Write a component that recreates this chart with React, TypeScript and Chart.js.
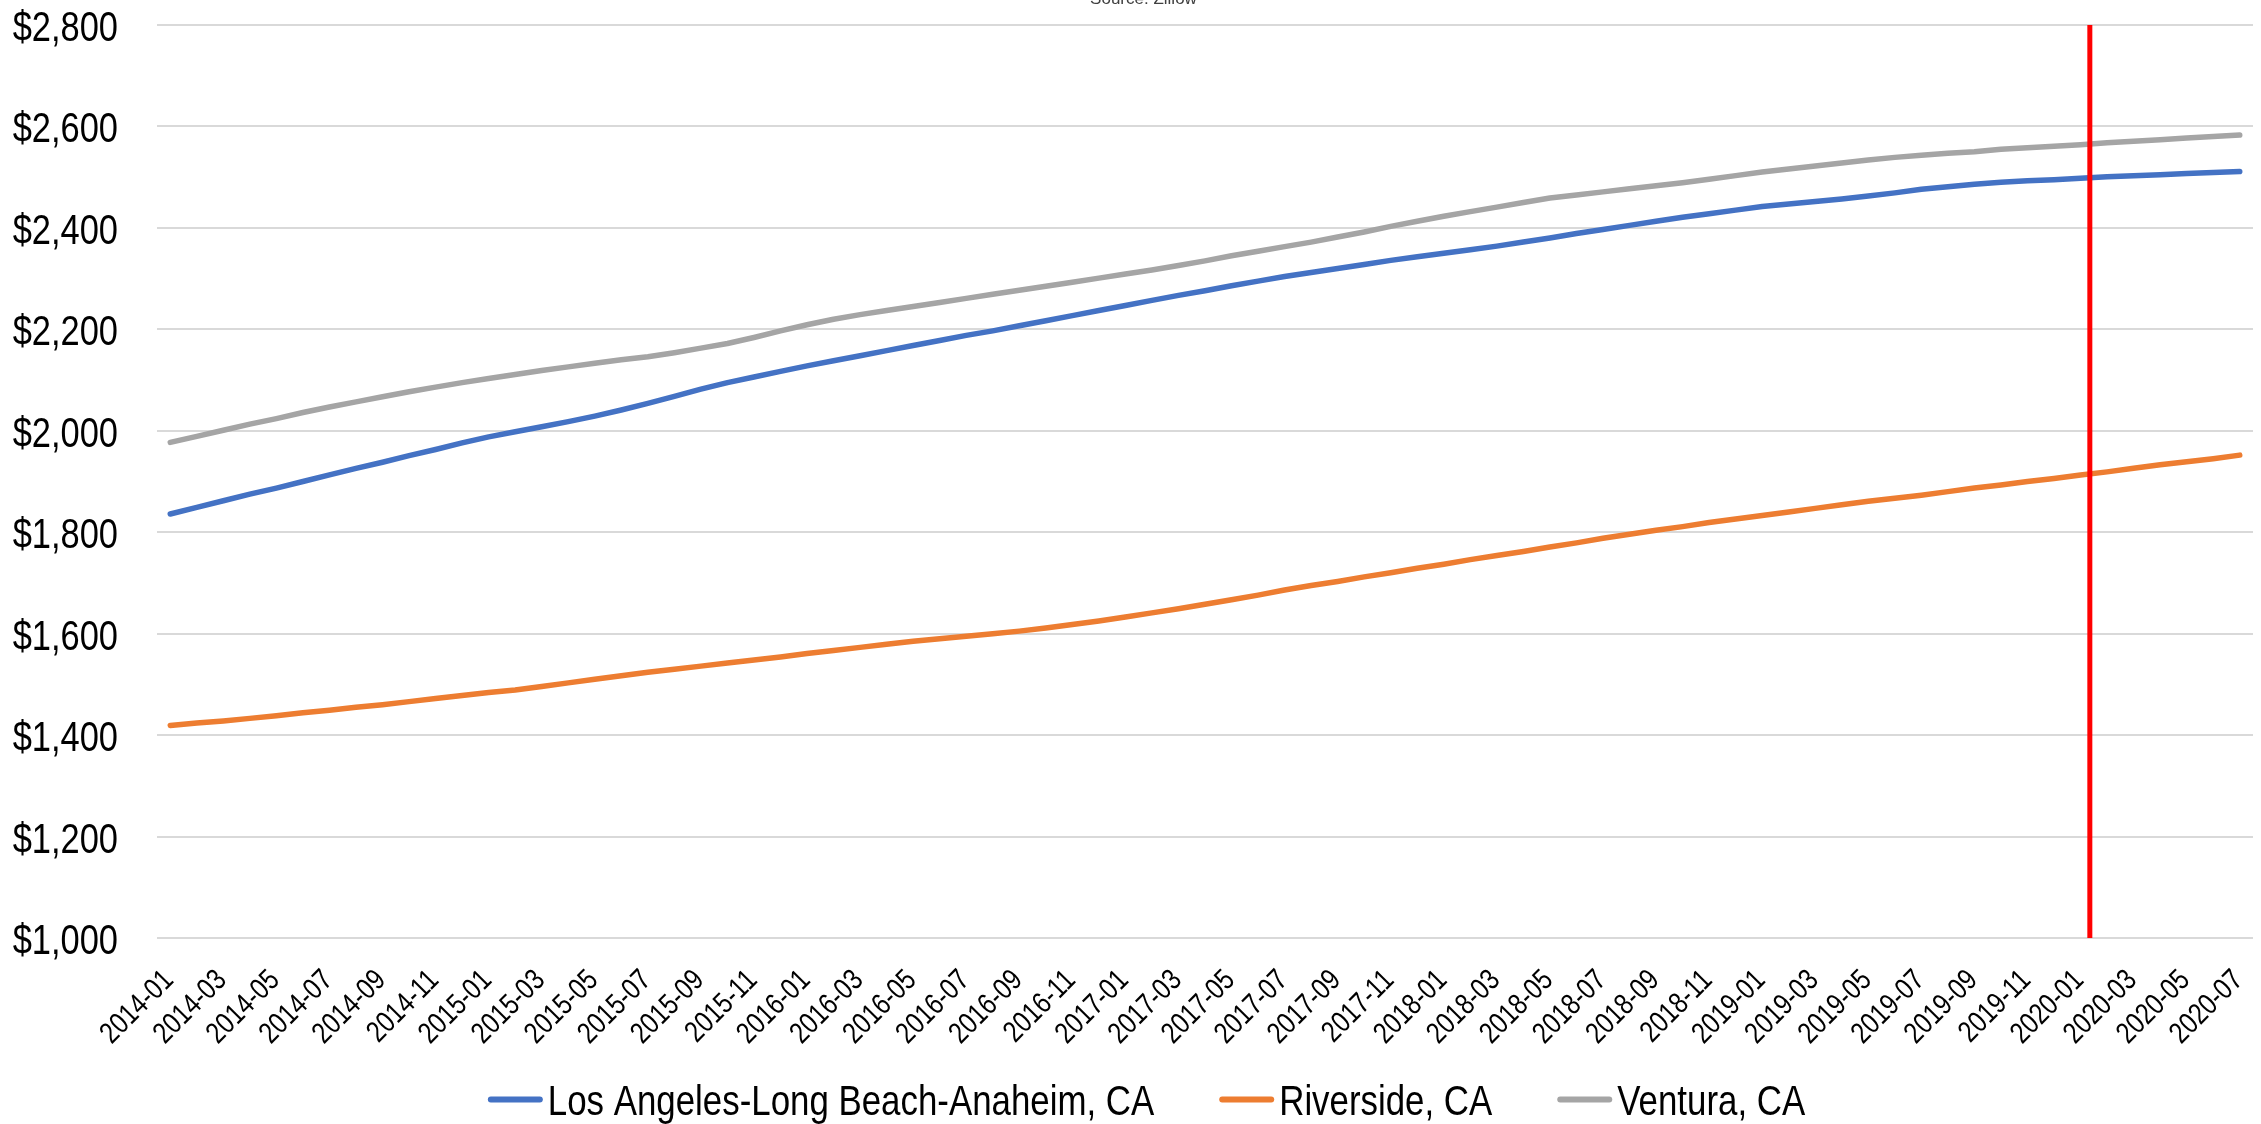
import React, { useEffect, useRef } from "react";
import { Chart, registerables } from "chart.js";

Chart.register(...registerables);

// Monthly categories, 2014-01 through 2020-07
const months: string[] = [];
for (let y = 2014; y <= 2020; y++) {
  for (let m = 1; m <= 12; m++) {
    if (y === 2020 && m > 7) break;
    months.push(`${y}-${String(m).padStart(2, "0")}`);
  }
}
// every second month carries a label on the x axis
const xLabelEvery = 2;

const seriesNames = ["Los Angeles-Long Beach-Anaheim, CA", "Riverside, CA", "Ventura, CA"];
const seriesColors = ["#4472C4", "#ED7D31", "#A5A5A5"];

const losAngeles = [
  1836, 1849, 1862, 1875, 1887, 1900, 1913, 1926, 1938, 1951, 1963, 1976,
  1988, 1998, 2008, 2018, 2029, 2041, 2054, 2068, 2082, 2095, 2106, 2117,
  2128, 2138, 2148, 2158, 2168, 2178, 2188, 2197, 2207, 2217, 2227, 2237,
  2247, 2257, 2267, 2276, 2286, 2295, 2304, 2312, 2320, 2328, 2336, 2343,
  2350, 2357, 2364, 2372, 2380, 2389, 2397, 2405, 2413, 2421, 2428, 2435,
  2442, 2447, 2452, 2457, 2463, 2469, 2476, 2481, 2486, 2490, 2493, 2495,
  2498, 2501, 2503, 2505, 2507, 2509, 2511,
];

const riverside = [
  1419, 1424, 1428, 1433, 1438, 1444, 1449, 1455, 1460, 1466, 1472, 1478,
  1484, 1489, 1496, 1503, 1510, 1517, 1524, 1530, 1536, 1542, 1548, 1554,
  1561, 1567, 1573, 1579, 1585, 1590, 1595, 1600, 1605, 1611, 1618, 1625,
  1633, 1641, 1649, 1658, 1667, 1676, 1686, 1695, 1703, 1712, 1720, 1729,
  1737, 1746, 1754, 1762, 1771, 1779, 1788, 1796, 1804, 1811, 1819, 1826,
  1833, 1840, 1847, 1854, 1861, 1867, 1873, 1880, 1887, 1893, 1900, 1906,
  1913, 1919, 1926, 1933, 1939, 1945, 1952,
];

const ventura = [
  1977, 1989, 2001, 2013, 2024, 2036, 2047, 2057, 2067, 2077, 2086, 2095,
  2103, 2111, 2119, 2126, 2133, 2140, 2146, 2154, 2163, 2172, 2184, 2197,
  2209, 2220, 2229, 2237, 2245, 2253, 2261, 2269, 2277, 2285, 2293, 2301,
  2309, 2317, 2326, 2335, 2345, 2354, 2363, 2372, 2382, 2392, 2403, 2413,
  2423, 2432, 2441, 2450, 2459, 2465, 2471, 2477, 2483, 2489, 2496, 2503,
  2510, 2516, 2522, 2528, 2534, 2539, 2543, 2547, 2550, 2555, 2558, 2561,
  2564, 2568, 2571, 2574, 2577, 2580, 2583,
];

// Y axis range and tick step
const yMin = 1000;
const yMax = 2800;
const yStep = 200;

// Vertical marker placed a little after the 2020-01 observation
const markerMonth = "2020-01";
const markerFraction = 0.35;

const sourceText = "Source: Zillow";

const FONT = "'Liberation Sans', Arial, sans-serif";
const CAP = 0.716; // cap height of the font, as a fraction of its size
const NARROW = 0.82; // horizontal squeeze that turns the face into a narrow one

const fmtDollar = (v: number) => "$" + v.toLocaleString("en-US");

// Text drawn with a horizontal squeeze, vertically centred on its capitals
function drawText(
  ctx: CanvasRenderingContext2D,
  text: string,
  x: number,
  y: number,
  size: number,
  squeeze: number,
  align: CanvasTextAlign,
  angle = 0,
  color = "#000000"
) {
  ctx.save();
  ctx.translate(x, y);
  if (angle) ctx.rotate(angle);
  ctx.scale(squeeze, 1);
  ctx.font = `${size}px ${FONT}`;
  ctx.fillStyle = color;
  ctx.textAlign = align;
  ctx.textBaseline = "alphabetic";
  ctx.fillText(text, 0, (CAP * size) / 2);
  ctx.restore();
}

const axisLabelPlugin = {
  id: "axisLabels",
  afterDraw(chart: any) {
    const ctx = chart.ctx;
    const ys = chart.scales.y;
    const xs = chart.scales.x;
    const area = chart.chartArea;

    // y axis: dollar values
    ys.ticks.forEach((t: any) => {
      drawText(ctx, fmtDollar(t.value), area.left - 39, ys.getPixelForValue(t.value) + 1, 42, NARROW, "right");
    });

    // x axis: months rotated 45 degrees
    months.forEach((m, i) => {
      if (i % xLabelEvery !== 0) return;
      drawText(ctx, m, xs.getPixelForValue(i) - 3, area.bottom + 36, 29.7, NARROW, "right", -Math.PI / 4);
    });
  },
};

const markerPlugin = {
  id: "marker",
  afterDatasetsDraw(chart: any) {
    const xs = chart.scales.x;
    const i = months.indexOf(markerMonth);
    const p0 = xs.getPixelForValue(i);
    const p1 = xs.getPixelForValue(i + 1);
    const px = p0 + markerFraction * (p1 - p0);
    const { top, bottom } = chart.chartArea;
    const ctx = chart.ctx;
    ctx.save();
    ctx.strokeStyle = "#FF0000";
    ctx.lineWidth = 5;
    ctx.beginPath();
    ctx.moveTo(px, top);
    ctx.lineTo(px, bottom);
    ctx.stroke();
    ctx.restore();
  },
};

const legendAndSourcePlugin = {
  id: "legendAndSource",
  afterDraw(chart: any) {
    const ctx = chart.ctx;
    const centerX = chart.width / 2 + 16;

    // source line at the very top
    ctx.save();
    ctx.font = `17px ${FONT}`;
    ctx.fillStyle = "#404040";
    ctx.textAlign = "center";
    ctx.textBaseline = "alphabetic";
    ctx.fillText(sourceText, centerX - 3, 4);
    ctx.restore();

    // legend along the bottom
    const size = 42.5;
    const lineW = 55;
    const gapText = 5;
    const gapItem = 65;
    ctx.save();
    ctx.font = `${size}px ${FONT}`;
    const widths = chart.data.datasets.map((d: any) => ctx.measureText(d.label).width * NARROW);
    ctx.restore();
    const total =
      widths.reduce((a: number, w: number) => a + lineW + gapText + w, 0) +
      gapItem * (widths.length - 1);
    let x = centerX - total / 2;
    const midY = chart.height - 24.5;
    chart.data.datasets.forEach((d: any, k: number) => {
      ctx.save();
      ctx.strokeStyle = d.borderColor;
      ctx.lineWidth = 6;
      ctx.lineCap = "round";
      ctx.beginPath();
      ctx.moveTo(x + 3, midY);
      ctx.lineTo(x + lineW - 3, midY);
      ctx.stroke();
      ctx.restore();
      drawText(ctx, d.label, x + lineW + gapText, midY, size, NARROW, "left");
      x += lineW + gapText + widths[k] + gapItem;
    });
  },
};

export default function App() {
  const canvasRef = useRef<HTMLCanvasElement | null>(null);

  useEffect(() => {
    const canvas = canvasRef.current;
    if (!canvas) return;
    const values = [losAngeles, riverside, ventura];
    const chart = new Chart(canvas, {
      type: "line",
      data: {
        labels: months,
        datasets: seriesNames.map((name, k) => ({
          label: name,
          data: values[k],
          borderColor: seriesColors[k],
          backgroundColor: seriesColors[k],
          borderWidth: 5.5,
          borderCapStyle: "round",
          borderJoinStyle: "round",
          pointRadius: 0,
          tension: 0,
          fill: false,
        })),
      },
      options: {
        animation: false,
        responsive: true,
        maintainAspectRatio: false,
        layout: { padding: { top: 25, right: 8, left: 0, bottom: 0 } },
        plugins: {
          legend: { display: false },
          title: { display: false },
          tooltip: { enabled: false },
        },
        scales: {
          x: {
            type: "category",
            offset: true,
            grid: { display: false, drawTicks: false },
            border: { display: false },
            ticks: { display: false, autoSkip: false },
            afterFit: (s: any) => {
              s.height = 186;
            },
          },
          y: {
            min: yMin,
            max: yMax,
            grid: { color: "#D9D9D9", lineWidth: 2, drawTicks: false },
            border: { display: false },
            ticks: { display: false, stepSize: yStep },
            afterFit: (s: any) => {
              s.width = 157;
            },
          },
        },
      },
      plugins: [markerPlugin, axisLabelPlugin, legendAndSourcePlugin],
    });
    return () => chart.destroy();
  }, []);

  return (
    <div style={{ position: "absolute", left: 0, top: 0, width: 2261, height: 1124, background: "#ffffff" }}>
      <canvas ref={canvasRef} />
    </div>
  );
}
